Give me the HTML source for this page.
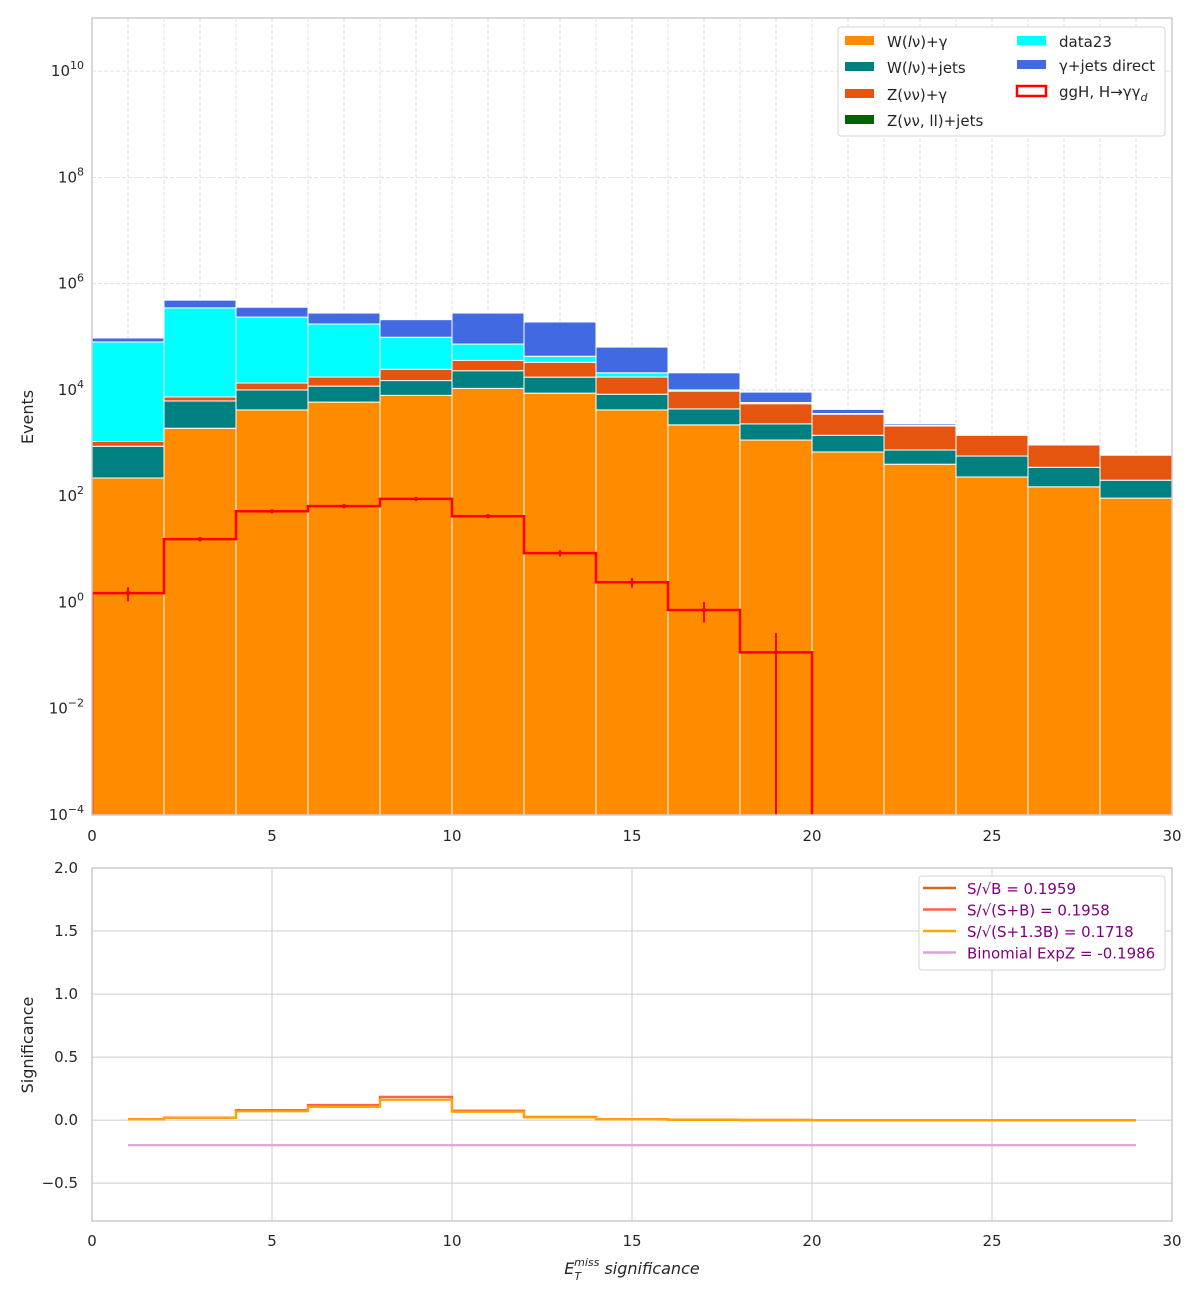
<!DOCTYPE html>
<html><head><meta charset="utf-8">
<style>
body{margin:0;background:#fff;}
svg{display:block;font-family:"DejaVu Sans","Liberation Sans",sans-serif;}
</style></head>
<body>
<svg id="fig" width="1200" height="1300" xmlns="http://www.w3.org/2000/svg"></svg>
<script>
const binEdges=[0,2,4,6,8,10,12,14,16,18,20,22,24,26,28,30];
const wlvGamma=[220,1900,4200,5900,7900,10700,8700,4200,2200,1140,680,400,230,150,92];
const wlvJets=[650,4300,5800,5900,7100,12300,8700,4100,2200,1160,720,340,340,200,108];
const znnGamma=[200,1200,3500,5700,9500,13000,15600,9200,5100,3200,2100,1360,830,570,390];
const znnJets=[0,0,0,0,0,0,0,0,0,0,0,0,0,0,0];
const data23=[78900,342600,221500,156500,73500,37000,10000,3500,500,300,100,50,0,0,0];
const gjets=[15000,140000,125000,106000,112000,207000,147000,43000,11000,3300,700,150,0,0,0];
const signal=[1.5,15.6,52,65,89,42,8.5,2.4,0.72,0.115,0,0,0,0,0];
const signalErr=[0.45,1.5,3,3.5,4.5,3,1.2,0.5,0.3,0.15,0,0,0,0,0];
const sigCenters=[1,3,5,7,9,11,13,15,17,19,21,23,25,27,29];
const sOverSqrtB=[0.008,0.02,0.08,0.12,0.185,0.075,0.025,0.008,0.003,0.001,0,0,0,0,0];
const sOverSqrtSB=[0.008,0.02,0.079,0.119,0.183,0.074,0.025,0.008,0.003,0.001,0,0,0,0,0];
const sOverSqrtS13B=[0.007,0.018,0.07,0.105,0.162,0.066,0.022,0.007,0.003,0.001,0,0,0,0,0];
const binomZ=[-0.1986,-0.1986,-0.1986,-0.1986,-0.1986,-0.1986,-0.1986,-0.1986,-0.1986,-0.1986,-0.1986,-0.1986,-0.1986,-0.1986,-0.1986];
const xTicks=[0,5,10,15,20,25,30];
const yExpTicks=[-4,-2,0,2,4,6,8,10];
const sigTicks=[-0.5,0,0.5,1.0,1.5,2.0];

const NS="http://www.w3.org/2000/svg";
const svg=document.getElementById('fig');
function mk(tag,attrs,parent){const e=document.createElementNS(NS,tag);for(const k in attrs)e.setAttribute(k,attrs[k]);(parent||svg).appendChild(e);return e;}
const L=92,R=1172;
const X=v=>L+(v-0)/30*(R-L);
const T=18,B=815,ymin=-4,ymax=11;
const Y=v=>B-(Math.log10(v)-ymin)/(ymax-ymin)*(B-T);
const T2=868,B2=1221,smin=-0.8,smax=2.0;
const Y2=v=>B2-(v-smin)/(smax-smin)*(B2-T2);

// top grid
const g1=mk('g',{});

for(let i=1;i<30;i++)mk('line',{x1:X(i),x2:X(i),y1:T,y2:B,stroke:'#d8d8d8','stroke-width':0.8,'stroke-dasharray':'4,2'},g1);
for(const e of yExpTicks.concat([])){if(e>ymin)mk('line',{x1:L,x2:R,y1:Y(Math.pow(10,e)),y2:Y(Math.pow(10,e)),stroke:'#d8d8d8','stroke-width':0.8,'stroke-dasharray':'4,2'},g1);}

// stacks
const comps=[[wlvGamma,'#ff8c00','bar-wlv-gamma'],[wlvJets,'#008080','bar-wlv-jets'],[znnGamma,'#e65510','bar-znn-gamma'],[znnJets,'#006400','bar-znn-jets'],[data23,'#00ffff','bar-data23'],[gjets,'#4169e1','bar-gjets-direct']];
const cum=new Array(15).fill(0);
for(const [arr,col,name] of comps){
  for(let i=0;i<15;i++){
    const lo=cum[i];const hi=cum[i]+arr[i];cum[i]=hi;
    if(arr[i]<=0)continue;
    const yl=lo>0?Y(lo):B;const yh=Y(hi);
    const r=mk('rect',{x:X(binEdges[i]),y:yh,width:X(binEdges[i+1])-X(binEdges[i]),height:Math.max(0,yl-yh),fill:col,stroke:'#fff','stroke-width':1});
    
    
  }
}
// signal step
let d='M'+X(0)+','+B;
for(let i=0;i<15;i++){const yy=signal[i]>0?Y(signal[i]):B+5;d+=' L'+X(binEdges[i])+','+yy+' L'+X(binEdges[i+1])+','+yy;}
const sp=mk('path',{d:d,fill:'none',stroke:'#ff0000','stroke-width':2.5});

const clip=mk('clipPath',{id:'c1'});mk('rect',{x:L,y:T,width:R-L,height:B-T},clip);
sp.setAttribute('clip-path','url(#c1)');
for(let i=0;i<15;i++){
  if(signal[i]<=0)continue;
  const cx=X(sigCenters[i]);const lo=signal[i]-signalErr[i];
  const yl=lo>0?Y(lo):B;const yh=Y(signal[i]+signalErr[i]);
  const el=mk('line',{x1:cx,x2:cx,y1:yl,y2:yh,stroke:'#ff0000','stroke-width':2});
  
  const c=mk('circle',{cx:cx,cy:Y(signal[i]),r:2.2,fill:'#ff0000'});
  
}
// top frame
mk('rect',{x:L,y:T,width:R-L,height:B-T,fill:'none',stroke:'#cccccc','stroke-width':1.5});
// ticks
for(const t of xTicks){const tx=mk('text',{x:X(t),y:B+26,'text-anchor':'middle','font-size':15,fill:'#262626'});tx.textContent=t;}
for(const e of yExpTicks){const tx=mk('text',{x:L-8,y:Y(Math.pow(10,e))+5,'text-anchor':'end','font-size':15,fill:'#262626'});tx.innerHTML='10<tspan dy="-7" font-size="11">'+(e<0?'−'+(-e):e)+'</tspan>';}
const yt=mk('text',{x:33,y:417,'text-anchor':'middle','font-size':16,fill:'#262626',transform:'rotate(-90 33 417)'});yt.textContent='Events';

// legend top
const lg=mk('g',{});
mk('rect',{x:838,y:27,width:327,height:109,rx:3,fill:'#fff',stroke:'#d5d5d5'},lg);
const ents=[['#ff8c00','W(<tspan font-style="italic">l</tspan>ν)+γ',845,41],['#008080','W(<tspan font-style="italic">l</tspan>ν)+jets',845,67],['#e65510','Z(νν)+γ',845,94],['#006400','Z(νν, ll)+jets',845,120],['#00ffff','data23',1017,41],['#4169e1','γ+jets direct',1017,65],[null,'ggH, H→γγ<tspan font-size="11" dy="4" font-style="italic">d</tspan>',1017,91]];
for(const [c,t,x,y] of ents){
  const eg=mk('g',{},lg);
  if(c)mk('rect',{x:x,y:y-5,width:29,height:9,fill:c},eg);else mk('rect',{x:x,y:y-5,width:29,height:10,fill:'#fff',stroke:'#ff0000','stroke-width':2.5},eg);
  const tx=mk('text',{x:x+42,y:y+6,'font-size':15,fill:'#262626'},eg);tx.innerHTML=t;
}

// bottom panel grid
const g2=mk('g',{});
for(const t of xTicks)mk('line',{x1:X(t),x2:X(t),y1:T2,y2:B2,stroke:'#cccccc','stroke-width':1},g2);
for(const t of sigTicks)mk('line',{x1:L,x2:R,y1:Y2(t),y2:Y2(t),stroke:'#cccccc','stroke-width':1},g2);
function stepMid(arr,col,name){
  let p='M'+X(sigCenters[0])+','+Y2(arr[0]);
  for(let i=0;i<15;i++){
    const a=i===0?sigCenters[0]:binEdges[i];const b=i===14?sigCenters[14]:binEdges[i+1];
    p+=' L'+X(a)+','+Y2(arr[i])+' L'+X(b)+','+Y2(arr[i]);
  }
  const pe=mk('path',{d:p,fill:'none',stroke:col,'stroke-width':2.2});
  
}
stepMid(binomZ,'#dda0dd','binomial-expz-line');
stepMid(sOverSqrtB,'#d2691e','s-over-sqrt-b-line');
stepMid(sOverSqrtSB,'#ff6347','s-over-sqrt-sb-line');
stepMid(sOverSqrtS13B,'#ffa500','s-over-sqrt-s13b-line');
mk('rect',{x:L,y:T2,width:R-L,height:B2-T2,fill:'none',stroke:'#cccccc','stroke-width':1.5});
for(const t of xTicks){const tx=mk('text',{x:X(t),y:B2+25,'text-anchor':'middle','font-size':15,fill:'#262626'});tx.textContent=t;}
for(const t of sigTicks){const tx=mk('text',{x:L-14,y:Y2(t)+5,'text-anchor':'end','font-size':15,fill:'#262626'});tx.textContent=(t<0?'−':'')+Math.abs(t).toFixed(1);}
const yt2=mk('text',{x:33,y:1045,'text-anchor':'middle','font-size':16,fill:'#262626',transform:'rotate(-90 33 1045)'});yt2.textContent='Significance';
const xt=mk('text',{x:632,y:1274,'text-anchor':'middle','font-size':16,fill:'#262626','font-style':'italic'});
xt.innerHTML='E<tspan font-size="11" dy="6">T</tspan><tspan font-size="11" dx="-7" dy="-14">miss</tspan><tspan dy="8"> significance</tspan>';

const lg2=mk('g',{});
mk('rect',{x:919,y:876,width:246,height:94,rx:3,fill:'#fff',stroke:'#d5d5d5'},lg2);
const e2=[['#d2691e','S/√B = 0.1959'],['#ff6347','S/√(S+B) = 0.1958'],['#ffa500','S/√(S+1.3B) = 0.1718'],['#dda0dd','Binomial ExpZ = -0.1986']];
e2.forEach(([c,t],i)=>{const y=888+i*21.5;const eg=mk('g',{},lg2);
mk('line',{x1:923,x2:956,y1:y,y2:y,stroke:c,'stroke-width':2.5},eg);const tx=mk('text',{x:967,y:y+6,'font-size':15,fill:'#800080'},eg);tx.textContent=t;});
</script>
</body></html>
